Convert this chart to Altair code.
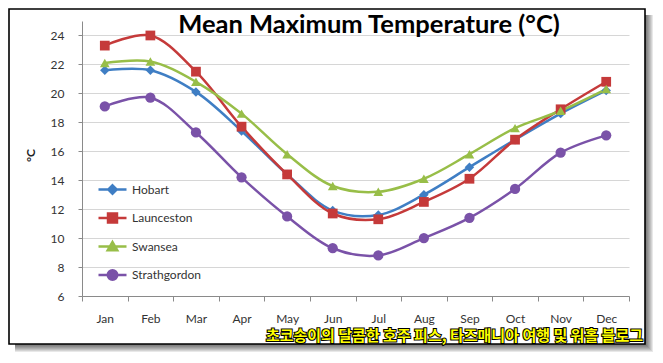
import altair as alt
import pandas as pd

months = ["Jan", "Feb", "Mar", "Apr", "May", "Jun", "Jul", "Aug", "Sep", "Oct", "Nov", "Dec"]
cities = ["Hobart", "Launceston", "Swansea", "Strathgordon"]
hobart = [21.6, 21.6, 20.1, 17.4, 14.4, 11.9, 11.6, 13.0, 14.9, 16.8, 18.6, 20.2]
launceston = [23.3, 24.0, 21.5, 17.7, 14.4, 11.7, 11.3, 12.5, 14.1, 16.8, 18.9, 20.8]
swansea = [22.1, 22.2, 20.8, 18.6, 15.8, 13.6, 13.2, 14.1, 15.8, 17.6, 18.8, 20.3]
strathgordon = [19.1, 19.7, 17.3, 14.2, 11.5, 9.3, 8.8, 10.0, 11.4, 13.4, 15.9, 17.1]
y_ticks = [6, 8, 10, 12, 14, 16, 18, 20, 22, 24]

title_text = "Mean Maximum Temperature (°C)"
watermark = "초코송이의 달콤한 호주 피스, 타즈매니아 여행 및 워홀 블로그"

colors = ["#3F7EC4", "#C53A3A", "#98BE48", "#7A52A8"]
marker_shapes = ["diamond", "square", "triangle-up", "circle"]
marker_sizes = [90, 95, 95, 105]
legend_paths = [
    "M-1,0H1M0,-0.3L0.3,0L0,0.3L-0.3,0Z",
    "M-1,0H1M-0.32,-0.32H0.32V0.32H-0.32Z",
    "M-1,0H1M0,-0.32L0.34,0.27H-0.34Z",
    "M-1,0H1M-0.34,0A0.34,0.34 0 1,0 0.34,0A0.34,0.34 0 1,0 -0.34,0Z",
]

rows = []
for city, vals in zip(cities, [hobart, launceston, swansea, strathgordon]):
    for m, v in zip(months, vals):
        rows.append({"city": city, "month": m, "temp": v})
df = pd.DataFrame(rows)
one = pd.DataFrame({"k": [0]})

FONT = "Lato"
W, H = 547, 275

x_enc = alt.X(
    "month:N",
    bandPosition=0.5,
    scale=alt.Scale(type="band", domain=months, paddingInner=0, paddingOuter=0),
    axis=alt.Axis(
        title=None, tickBand="extent", grid=False, labelAngle=0,
        domainColor="#8a8a8a", tickColor="#8a8a8a", tickSize=5,
        labelFont=FONT, labelFontSize=12, labelColor="#333333", labelPadding=12,
    ),
)
y_enc = alt.Y(
    "temp:Q",
    scale=alt.Scale(domain=[6, 25], nice=False, zero=False),
    axis=alt.Axis(
        values=y_ticks, title="°C", grid=True, gridColor="#d6d6d6", gridWidth=1,
        domainColor="#8a8a8a", tickColor="#8a8a8a", tickSize=4,
        labelFont=FONT, labelFontSize=12, labelColor="#333333", labelPadding=14,
        titleFont=FONT, titleFontSize=12, titleFontWeight="bold", titleColor="#222222",
        titleX=-52, titleY=134, titleAlign="center", titleBaseline="middle",
    ),
)
color_enc = alt.Color("city:N", scale=alt.Scale(domain=cities, range=colors), legend=None)

base = alt.Chart(df)

lines = base.mark_line(interpolate="catmull-rom", strokeWidth=2.5).encode(
    x=x_enc, y=y_enc, color=color_enc
)
point_layers = []
for city, shp, sz in zip(cities, marker_shapes, marker_sizes):
    point_layers.append(
        base.transform_filter(alt.datum.city == city)
        .mark_point(filled=True, opacity=1, size=sz, shape=shp)
        .encode(x=x_enc, y=y_enc, color=color_enc)
    )

leg = alt.Legend(
    title=None, orient="none", legendX=15, legendY=153, padding=0,
    symbolSize=784, symbolStrokeWidth=2.5, rowPadding=3.5, labelOffset=4,
    labelFont=FONT, labelFontSize=12, labelColor="#333333",
)
# invisible marks that only carry the legend (line + marker symbols)
legend_layer = base.mark_point(
    filled=True, opacity=1, fillOpacity=0, strokeOpacity=0, strokeWidth=2.5, size=10
).encode(
    x=x_enc, y=y_enc,
    fill=alt.Fill("city:N", scale=alt.Scale(domain=cities, range=colors), legend=leg),
    stroke=alt.Stroke("city:N", scale=alt.Scale(domain=cities, range=colors), legend=leg),
    shape=alt.Shape("city:N", scale=alt.Scale(domain=cities, range=legend_paths), legend=leg),
)

title_layer = alt.Chart(one).mark_text(
    text=title_text, font=FONT, fontSize=25.5, fontWeight="bold",
    align="center", baseline="alphabetic", color="#000000",
).encode(x=alt.value(287), y=alt.value(12))

wm_back = alt.Chart(one).mark_text(
    text=watermark, font="Noto Sans CJK KR", fontSize=15, fontWeight="bold",
    align="right", baseline="alphabetic", fill="#000000", stroke="#000000", strokeWidth=2,
).encode(x=alt.value(561), y=alt.value(320))
wm_front = alt.Chart(one).mark_text(
    text=watermark, font="Noto Sans CJK KR", fontSize=15, fontWeight="bold",
    align="right", baseline="alphabetic", fill="#FFFF00",
).encode(x=alt.value(561), y=alt.value(320))

# frame and drop shadow
FL, FR, FT, FB = -73, 563, -12, 323
frame_layers = []
for k in range(1, 9):
    frame_layers.append(
        alt.Chart(one).mark_rect(fill="#000000", opacity=0.09).encode(
            x=alt.value(FR), x2=alt.value(FR + k), y=alt.value(FT + 6), y2=alt.value(FB + k)
        )
    )
    frame_layers.append(
        alt.Chart(one).mark_rect(fill="#000000", opacity=0.09).encode(
            x=alt.value(FL + 6), x2=alt.value(FR), y=alt.value(FB), y2=alt.value(FB + k)
        )
    )
frame = alt.Chart(one).mark_rect(fillOpacity=0, stroke="#000000", strokeWidth=1.6).encode(
    x=alt.value(FL), x2=alt.value(FR), y=alt.value(FT), y2=alt.value(FB)
)

chart = alt.layer(
    *frame_layers, frame, lines, *point_layers, legend_layer, title_layer, wm_back, wm_front
).resolve_scale(
    fill="independent", stroke="independent", shape="independent"
).resolve_legend(
    fill="independent", stroke="independent", shape="independent"
).properties(
    width=W, height=H, autosize="none",
    padding={"left": 74, "top": 13, "right": 24, "bottom": 57},
    background="#ffffff",
).configure_view(stroke=None)

chart.save("out.html", embed_options={"renderer": "svg", "actions": False})
